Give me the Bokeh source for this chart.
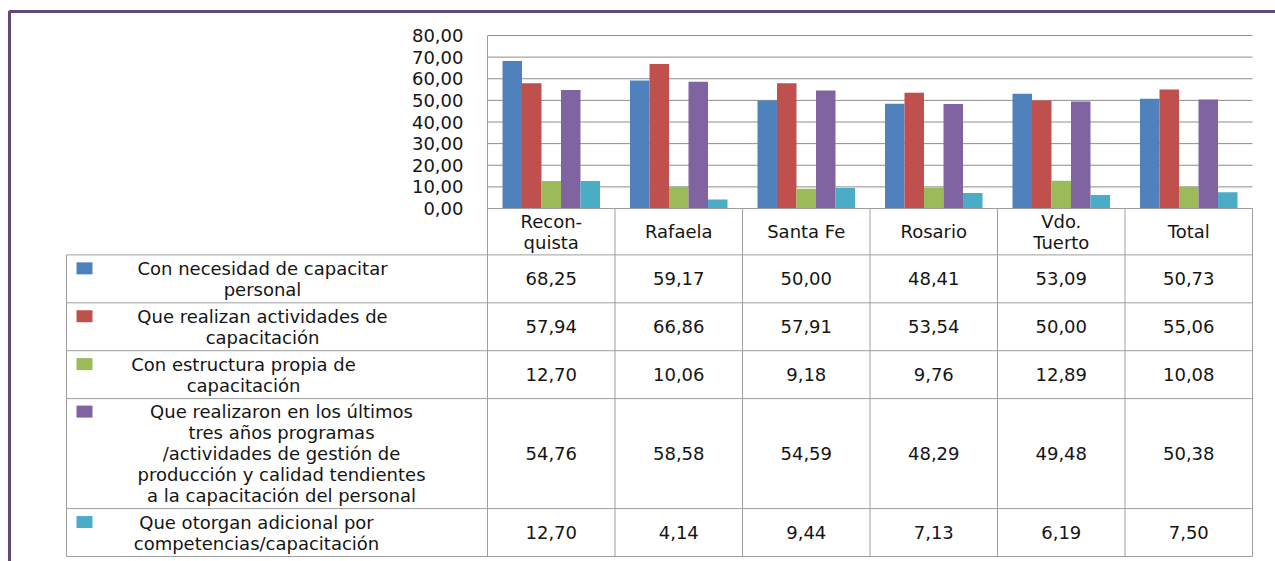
from bokeh.plotting import figure
from bokeh.models import Range1d, FixedTicker, CustomJSTickFormatter
from bokeh.core.properties import value
from bokeh.embed import file_html
from bokeh.resources import INLINE

# ---------------- data ----------------
categories = ["Reconquista", "Rafaela", "Santa Fe", "Rosario", "Vdo. Tuerto", "Total"]
header_labels = ["Recon-\nquista", "Rafaela", "Santa Fe", "Rosario", "Vdo.\nTuerto", "Total"]

series_labels = [
    "Con necesidad de capacitar\npersonal",
    "Que realizan actividades de\ncapacitación",
    "Con estructura propia de\ncapacitación",
    "Que realizaron en los últimos\ntres años programas\n/actividades de gestión de\nproducción y calidad tendientes\na la capacitación del personal",
    "Que otorgan adicional por\ncompetencias/capacitación",
]

necesidad = [68.25, 59.17, 50.00, 48.41, 53.09, 50.73]
actividades = [57.94, 66.86, 57.91, 53.54, 50.00, 55.06]
estructura = [12.70, 10.06, 9.18, 9.76, 12.89, 10.08]
programas = [54.76, 58.58, 54.59, 48.29, 49.48, 50.38]
adicional = [12.70, 4.14, 9.44, 7.13, 6.19, 7.50]

y_ticks = [0, 10, 20, 30, 40, 50, 60, 70, 80]

series_values = [necesidad, actividades, estructura, programas, adicional]
colors = ["#4F81BD", "#C0504D", "#9BBB59", "#8064A2", "#4BACC6"]

# ---------------- layout (page pixels) ----------------
W, H = 1275, 561
PAGE = 0
PX0 = 487.0      # page x of plot-area left edge
COL = 127.5      # column width in px (1 x unit)
Y0 = 208.0       # page y of value 0
PXU = 173.0 / 80  # px per value unit
BAR_W = 19.5 / COL
TABLE_LEFT_PX = 66.0
LINE_H = 21.0
FONT = value("DejaVu Sans")
FSIZE = "18px"
TXT = "#151515"
GRID = "#8C8C8C"
TABLE = "#9E9E9E"
label_cx_px = [262, 262, 243, 281, 256]


def dx(px):
    return (px - PX0) / COL


def dy(py):
    return (Y0 - py) / PXU


ncat = len(categories)

p = figure(width=W, height=H, output_backend="svg", toolbar_location=None,
           x_axis_location=None, y_axis_location="left",
           x_range=Range1d(0, dx(PAGE + W)), y_range=Range1d(dy(PAGE + H), dy(PAGE)))
p.min_border = 0
p.min_border_left = int(PX0 - PAGE)
p.outline_line_color = None
p.grid.visible = False
p.background_fill_color = "white"
p.border_fill_color = "white"

ax = p.yaxis[0]
ax.ticker = FixedTicker(ticks=y_ticks)
ax.formatter = CustomJSTickFormatter(code="return tick.toFixed(2).replace('.', ',');")
ax.axis_line_color = None
ax.major_tick_line_color = None
ax.minor_tick_line_color = None
ax.major_tick_out = 0
ax.major_tick_in = 0
ax.major_label_standoff = 24
ax.major_label_text_font = "DejaVu Sans"
ax.major_label_text_font_size = FSIZE
ax.major_label_text_color = TXT

# gridlines
p.segment(x0=[0] * (len(y_ticks) - 1), x1=[ncat] * (len(y_ticks) - 1),
          y0=y_ticks[1:], y1=y_ticks[1:], line_color=GRID, line_width=1)

# bars
nser = len(series_values)
for j, vals in enumerate(series_values):
    xs = [i + 0.5 + (j - (nser - 1) / 2) * BAR_W for i in range(ncat)]
    p.vbar(x=xs, width=BAR_W, bottom=0, top=vals, fill_color=colors[j], line_color=None)

# table geometry
n_lines = [2] + [s.count("\n") + 1 for s in series_labels]
bounds = [Y0]
for k, n in enumerate(n_lines):
    bounds.append(bounds[-1] + (5 if k == 0 else 6.5) + 20.7 * n)
bottom = bounds[-1]

# table lines
hx0, hx1, hy = [0], [ncat], [dy(bounds[0])]
for b in bounds[1:]:
    hx0.append(dx(TABLE_LEFT_PX)); hx1.append(ncat); hy.append(dy(b))
p.segment(x0=hx0, x1=hx1, y0=hy, y1=hy, line_color=TABLE, line_width=1, level="overlay")

vx = list(range(ncat + 1)) + [dx(TABLE_LEFT_PX)]
vy0 = [80] + [0] * ncat + [dy(bounds[1])]
vy1 = [dy(bottom)] * (ncat + 2)
p.segment(x0=vx, x1=vx, y0=vy0, y1=vy1, line_color=TABLE, line_width=1, level="overlay")

# header texts
hc = dy((bounds[0] + bounds[1]) / 2)
p.text(x=[i + 0.5 for i in range(ncat)], y=[hc] * ncat, text=header_labels,
       text_font=FONT, text_font_size=FSIZE, text_color=TXT, text_align="center",
       text_baseline="middle", text_line_height=1.0)

# numbers and row labels
num_x, num_y, num_t = [], [], []
lab_x, lab_y, key_x, key_y = [], [], [], []
for r, vals in enumerate(series_values):
    top_b, bot_b = bounds[r + 1], bounds[r + 2]
    cy = (top_b + bot_b) / 2
    for i, v in enumerate(vals):
        num_x.append(i + 0.5); num_y.append(dy(cy))
        num_t.append(f"{v:.2f}".replace(".", ","))
    lab_x.append(dx(label_cx_px[r])); lab_y.append(dy(cy))
    first = cy - (n_lines[r + 1] - 1) / 2 * LINE_H
    key_x.append(dx(84)); key_y.append(dy(first))

p.text(x=num_x, y=num_y, text=num_t, text_font=FONT, text_font_size=FSIZE,
       text_color=TXT, text_align="center", text_baseline="middle")

p.text(x=lab_x, y=lab_y, text=series_labels, text_font=FONT, text_font_size=FSIZE,
       text_color=TXT, text_align="center", text_baseline="middle",
       text_line_height=1.0, level="overlay")

p.rect(x=key_x, y=key_y, width=16, height=12, width_units="screen", height_units="screen",
       fill_color=colors, line_color=None, level="overlay")

# outer purple frame (left and top edges)
p.line(x=[dx(9), dx(9), dx(PAGE + W + 20)], y=[dy(PAGE + H + 20), dy(11), dy(11)],
       line_color="#604A7B", line_width=3, level="overlay")

open("out.html", "w").write(file_html(p, INLINE))
